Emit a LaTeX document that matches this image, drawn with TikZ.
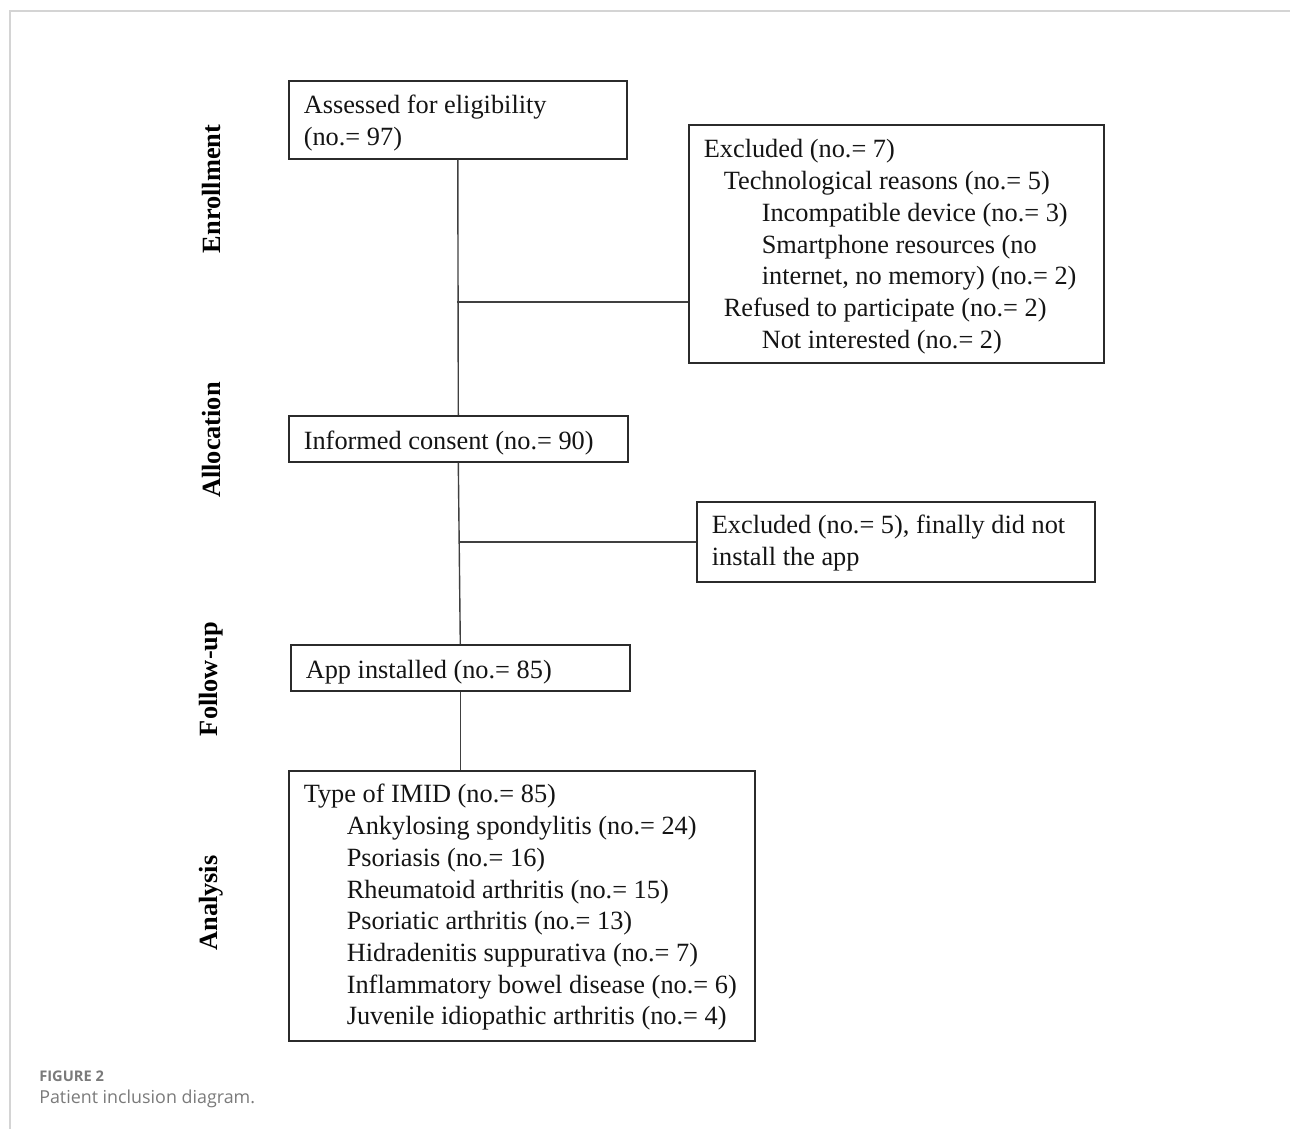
\documentclass[tikz,border=0pt]{standalone}
\usepackage{fontspec}
\setmainfont{Liberation Serif}
\newfontfamily\capfont{Open Sans}
\definecolor{framegray}{HTML}{D4D4D4}
\definecolor{capgray}{HTML}{7A7A7A}
\definecolor{linegray}{HTML}{2B2B2B}
\newcommand{\bodyfs}{\fontsize{19.75pt}{23.8pt}\selectfont}
% left-aligned block of fixed width, baseline = first line
\newcommand{\lines}[2]{\makebox[#1][l]{\begin{tabular}[t]{@{}l@{}}#2\end{tabular}}}
\tikzset{
  box/.style={draw=linegray, line width=1.2pt, inner xsep=11.25pt,
    inner ysep=0pt, anchor=north west, font=\bodyfs, text=black!92},
  conn/.style={draw=linegray!90, line width=1.05pt},
  phase/.style={rotate=90, font=\bodyfs\bfseries, text=black},
}
\begin{document}
\begin{tikzpicture}[x=0.75pt, y=-0.75pt]
\useasboundingbox (0,0) rectangle (1290,1129);
\draw[framegray, line width=1.5pt] (10,1129) -- (10,11) -- (1290,11);

% phase labels
\node[phase] (enr) at (211,189) {Enrollment};
\node[phase] (alo) at (211,440) {Allocation};
\node[phase] (fol) at (211,679) {Follow-up};
\node[phase] (ana) at (211,903) {Analysis};

% boxes
\node[box, text height=24.75pt, text depth=33.75pt] (A) at (288,80)
  {\lines{231pt}{Assessed for eligibility\\(no.= 97)}};
\node[box, text height=24.75pt, text depth=153.75pt] (E1) at (688,124)
  {\lines{288.75pt}{Excluded (no.= 7)\\
   \hspace*{15pt}Technological reasons (no.= 5)\\
   \hspace*{43.5pt}Incompatible device (no.= 3)\\
   \hspace*{43.5pt}Smartphone resources (no\\
   \hspace*{43.5pt}internet, no memory) (no.= 2)\\
   \hspace*{15pt}Refused to participate (no.= 2)\\
   \hspace*{43.5pt}Not interested (no.= 2)}};
\node[box, text height=25.5pt, text depth=9pt] (I) at (288,415)
  {\lines{231.75pt}{Informed consent (no.= 90)}};
\node[box, text height=24pt, text depth=36pt] (E2) at (696,501)
  {\lines{276pt}{Excluded (no.= 5), finally did not\\install the app}};
\node[box, text height=25.5pt, text depth=9pt] (P) at (290,644)
  {\lines{231.75pt}{App installed (no.= 85)}};
\node[box, text height=24pt, text depth=178.5pt] (T) at (288,770)
  {\lines{327pt}{Type of IMID (no.= 85)\\
   \hspace*{32.25pt}Ankylosing spondylitis (no.= 24)\\
   \hspace*{32.25pt}Psoriasis (no.= 16)\\
   \hspace*{32.25pt}Rheumatoid arthritis (no.= 15)\\
   \hspace*{32.25pt}Psoriatic arthritis (no.= 13)\\
   \hspace*{32.25pt}Hidradenitis suppurativa (no.= 7)\\
   \hspace*{32.25pt}Inflammatory bowel disease (no.= 6)\\
   \hspace*{32.25pt}Juvenile idiopathic arthritis (no.= 4)}};

% connectors
\coordinate (b1) at (457,302);
\coordinate (b2) at (458.5,542);
\draw[conn] (A.south) -- (I.north);
\draw[conn] (b1) -- (b1 -| E1.west);
\draw[conn] (I.south) -- (P.north);
\draw[conn] (b2) -- (b2 -| E2.west);
\draw[conn] (P.south) -- (P.south |- T.north);

% caption
\node[anchor=west, inner sep=0pt, font=\capfont\fontsize{11pt}{13pt}\selectfont\bfseries, text=capgray] (fig) at (39,1076) {FIGURE 2};
\node[anchor=west, inner sep=0pt, font=\capfont\fontsize{13.4pt}{16pt}\selectfont, text=capgray] (cap) at (39,1099) {Patient inclusion diagram.};
\end{tikzpicture}
\end{document}
